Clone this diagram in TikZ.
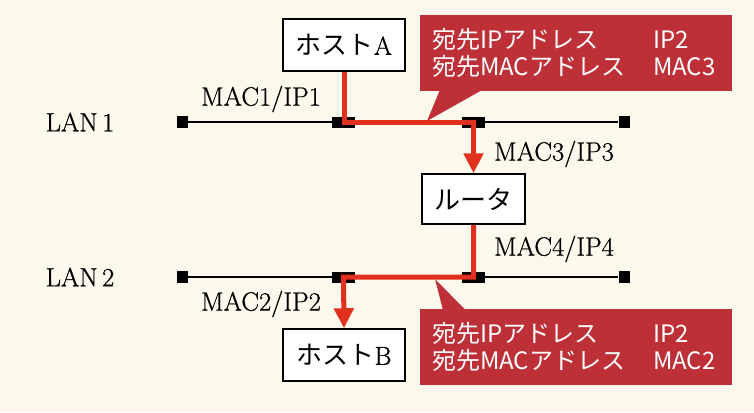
\documentclass[tikz,border=0pt]{standalone}
\usepackage{fontspec}
\newfontfamily\jpfont{Noto Sans CJK JP}
\newfontfamily\labelfont{Latin Modern Roman}[FakeBold=0.8]
\usetikzlibrary{arrows.meta, positioning, calc}
\definecolor{paper}{RGB}{253,248,236}
\definecolor{routered}{RGB}{224,48,30}
\definecolor{calloutred}{RGB}{190,48,55}

\begin{document}
\begin{tikzpicture}[
    x=1pt, y=-1pt,
    hostbox/.style={rectangle, draw, line width=1.5pt, fill=white, minimum width=122pt, minimum height=52pt, inner sep=0pt, font=\labelfont\fontsize{26}{30}\selectfont},
    routerbox/.style={hostbox, minimum width=103pt, minimum height=50pt},
    portsq/.style={rectangle, fill=black, minimum width=23pt, minimum height=11pt, inner sep=0pt},
    endsq/.style={rectangle, fill=black, minimum width=11pt, minimum height=12pt, inner sep=0pt},
    addr/.style={inner sep=0pt, font=\labelfont\fontsize{26.5}{30}\selectfont},
    callout/.style={rectangle, fill=calloutred, text=white, text width=288pt, align=left, inner xsep=12pt, inner ysep=0pt, minimum height=76pt, font=\jpfont\fontsize{24}{27}\selectfont},
    lan/.style={draw, line width=1.6pt},
    packet/.style={draw=routered, line width=5pt, -{Triangle[width=19pt,length=20pt]}}
]
    \fill[paper] (0,0) rectangle (754,412);

    % LAN 1
    \node[endsq] (end1a) at (182.5,122) {};
    \node[portsq] (portA) at (343.5,122) {};
    \node[portsq] (portR1) at (473.5,122) {};
    \node[endsq] (end1b) at (624,122) {};
    \path[lan] (end1a) -- (end1b);

    % LAN 2
    \node[endsq] (end2a) at (182.5,277) {};
    \node[portsq] (portB) at (343.5,277) {};
    \node[portsq] (portR2) at (473.5,277) {};
    \node[endsq] (end2b) at (624,277) {};
    \path[lan] (end2a) -- (end2b);

    % Hosts and router
    \node[hostbox] (hostA) at (344,45) {{\jpfont ホスト}A};
    \node[routerbox] (router) at (473.5,199) {\jpfont ルータ};
    \node[hostbox] (hostB) at (344,355) {{\jpfont ホスト}B};

    % Labels
    \node[addr] (lan1) at (80,122) {LAN\,1};
    \node[addr] (lan2) at (80,277) {LAN\,2};
    \node[addr] (mac1) at (261,99) {MAC1/IP1};
    \node[addr] (mac3) at (554,154) {MAC3/IP3};
    \node[addr] (mac4) at (554,249) {MAC4/IP4};
    \node[addr] (mac2) at (261,304) {MAC2/IP2};

    % Packet route
    \path[packet] (hostA.south) |- (portR1.center) -- (router.north);
    \path[packet] (router.south) |- (portB.center) -- (hostB.north);

    % Callouts
    \node[callout] (callA) at (576,53) {\makebox[221pt][l]{宛先IPアドレス}IP2\\\makebox[221pt][l]{宛先MACアドレス}MAC3};
    \coordinate (tipA) at (427,121);
    \fill[calloutred] ([xshift=20pt,yshift=1pt]callA.south west) -- ([xshift=62pt,yshift=1pt]callA.south west) -- (tipA) -- cycle;

    \node[callout] (callB) at (576,346.5) {\makebox[221pt][l]{宛先IPアドレス}IP2\\\makebox[221pt][l]{宛先MACアドレス}MAC2};
    \coordinate (tipB) at (435,279);
    \fill[calloutred] ([xshift=23pt,yshift=-1pt]callB.north west) -- ([xshift=45pt,yshift=-1pt]callB.north west) -- (tipB) -- cycle;
\end{tikzpicture}
\end{document}
